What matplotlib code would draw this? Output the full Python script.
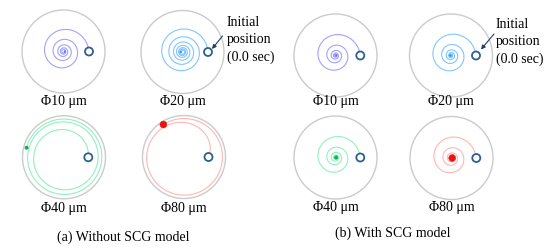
import numpy as np
import matplotlib.pyplot as plt
from matplotlib.patches import Circle

# particle diameters and their labels
diameters = [10, 20, 40, 80]
labels = ['Φ10 μm', 'Φ20 μm', 'Φ40 μm', 'Φ80 μm']
track_colors = ['#a2a2ff', '#80c6ff', '#92f0c2', '#ffb6b6']
dot_colors = ['#6a6af0', '#2a8fe0', '#12b04a', '#ee1111']

# spiral parameters (pixels / radians)
# r(t) = r_lim + (r_start - r_lim) * exp(-rate * t)
a_start_r = [25.5, 25.5, 24.3, 24.5]
a_lim_r = [0.0, 0.0, 40.0, 38.5]
a_rate = [0.095, 0.066, 0.156, 0.8]
a_turns = [5.0, 6.5, 2.46, 1.34]

b_start_r = [24.8, 25.0, 24.8, 24.8]
b_lim_r = [0.0, 0.0, 0.0, 0.0]
b_rate = [0.112, 0.105, 0.112, 0.112]
b_turns = [5.0, 5.5, 5.0, 5.0]

captions = ['(a) Without SCG model', '(b) With SCG model']
note = 'Initial\nposition\n(0.0 sec)'

WALL_R = 41.5
FONT = ['Liberation Serif', 'DejaVu Serif']


def draw_cell(ax, cx, cy, r0, r_lim, rate, turns, col, dcol, dia):
  ax.add_patch(Circle((cx, cy), WALL_R, fill=False, ec='#cbcbcb', lw=1.0))
  t = np.linspace(0, turns * 2 * np.pi, 1500)
  r = r_lim + (r0 - r_lim) * np.exp(-rate * t)
  x = cx + r * np.cos(t)
  y = cy - r * np.sin(t)
  ax.plot(x, y, color=col, lw=0.8)
  ax.add_patch(Circle((cx + r0, cy), 4.0, fc='white', ec='#2e5f8e', lw=1.3, zorder=5))
  ax.add_patch(Circle((x[-1], y[-1]), max(0.8, dia / 23.0), fc=dcol, ec=dcol, lw=0.3, zorder=6))


def main():
  fig = plt.figure(figsize=(5.5, 2.53), dpi=100)
  ax = fig.add_axes([0, 0, 1, 1])
  ax.set_xlim(0, 550)
  ax.set_ylim(253, 0)
  ax.axis('off')

  centers_a = [(63.5, 52.5), (182.5, 53), (64, 158.3), (184, 158)]
  centers_b = [(335.5, 56.5), (451, 56.5), (335.5, 158.5), (451.5, 159)]
  label_y_a = [102, 102, 209, 209]
  label_y_b = [102, 102, 208, 208]

  for i in range(4):
    cx, cy = centers_a[i]
    draw_cell(ax, cx, cy, a_start_r[i], a_lim_r[i], a_rate[i], a_turns[i],
              track_colors[i], dot_colors[i], diameters[i])
    ax.text(cx, label_y_a[i], labels[i], ha='center', va='center', fontsize=10, family=FONT)
    cx, cy = centers_b[i]
    draw_cell(ax, cx, cy, b_start_r[i], b_lim_r[i], b_rate[i], b_turns[i],
              track_colors[i], dot_colors[i], diameters[i])
    ax.text(cx, label_y_b[i], labels[i], ha='center', va='center', fontsize=10, family=FONT)

  ax.text(123.5, 237, captions[0], ha='center', va='center', fontsize=10, family=FONT)
  ax.text(393, 233, captions[1], ha='center', va='center', fontsize=10, family=FONT)

  # initial position notes
  for tx, ty, ax0, ay0, ax1, ay1 in [(227, 40, 222.5, 37, 212, 50), (496, 42, 494, 35, 481, 50.5)]:
    ax.text(tx, ty, note, ha='left', va='center', fontsize=10, family=FONT, linespacing=1.38)
    ax.annotate('', xy=(ax1, ay1), xytext=(ax0, ay0),
                arrowprops=dict(arrowstyle='-|>', color='#1f3d66', lw=0.8,
                                mutation_scale=6, shrinkA=0, shrinkB=0))

  fig.savefig('out.png', dpi=100)


if __name__ == '__main__':
  main()
